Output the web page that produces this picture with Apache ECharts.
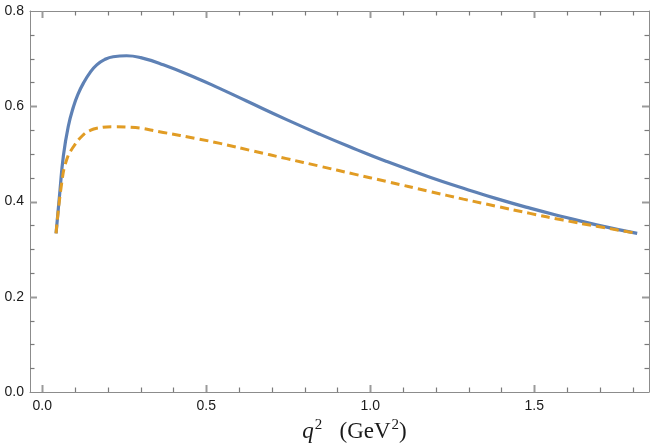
<!DOCTYPE html>
<html>
<head>
<meta charset="utf-8">
<script src="https://cdn.jsdelivr.net/npm/echarts@6/dist/echarts.min.js"></script>
<style>
html,body{margin:0;padding:0;background:#fff;}
#chart{width:654px;height:444px;}
</style>
</head>
<body>
<div id="chart"></div>
<script>
// q^2 values (GeV^2) and form-factor values
var solidX = [0.042, 0.054, 0.064, 0.079, 0.095, 0.110, 0.125, 0.145, 0.166, 0.190, 0.216, 0.257, 0.300, 0.369, 0.471, 0.542, 0.623, 0.745, 0.847, 0.948, 1.050, 1.182, 1.284, 1.385, 1.487, 1.588, 1.690, 1.814];
var solidY = [0.333, 0.424, 0.494, 0.557, 0.599, 0.627, 0.648, 0.670, 0.687, 0.698, 0.704, 0.706, 0.702, 0.687, 0.659, 0.637, 0.611, 0.572, 0.541, 0.512, 0.484, 0.451, 0.428, 0.406, 0.386, 0.368, 0.351, 0.333];
var dashedX = [0.042, 0.059, 0.074, 0.095, 0.125, 0.145, 0.166, 0.216, 0.267, 0.369, 0.471, 0.542, 0.643, 0.745, 0.847, 0.948, 1.050, 1.182, 1.284, 1.385, 1.487, 1.588, 1.690, 1.814];
var dashedY = [0.333, 0.438, 0.487, 0.515, 0.540, 0.549, 0.554, 0.557, 0.556, 0.545, 0.532, 0.522, 0.506, 0.490, 0.474, 0.458, 0.442, 0.421, 0.405, 0.390, 0.375, 0.361, 0.348, 0.333];
var xTickLabels = ['0.0', '0.5', '1.0', '1.5'];
var yTickLabels = ['0.0', '0.2', '0.4', '0.6', '0.8'];
var xMajorTicks = [0, 0.5, 1.0, 1.5];
var xMinorTicks = [0.1, 0.2, 0.3, 0.4, 0.6, 0.7, 0.8, 0.9, 1.1, 1.2, 1.3, 1.4, 1.6, 1.7, 1.8];
var yMajorTicks = [0.2, 0.4, 0.6];
var yMinorTicks = [0.05, 0.1, 0.15, 0.25, 0.3, 0.35, 0.45, 0.5, 0.55, 0.65, 0.7, 0.75];

function pairs(xs, ys) { return xs.map(function (x, i) { return [x, ys[i]]; }); }

var XMIN = -0.0375, XMAX = 1.85, YMIN = 0, YMAX = 0.8;
var frameColor = '#8c8c8c';
var majorTickColor = '#9a9a9a';
var minorTickColor = '#7a7a7a';
var labelFont = { fontFamily: 'Liberation Sans, Arial, sans-serif', fontSize: 14, color: '#1a1a1a' };
var serif = 'Liberation Serif, DejaVu Serif, serif';

function fmtX(v) {
  var k = v * 2;
  if (Math.abs(k - Math.round(k)) > 1e-6) return '';
  var idx = Math.round(k);
  return xTickLabels[idx] !== undefined ? xTickLabels[idx] : '';
}
function fmtY(v) {
  var k = v * 5;
  if (Math.abs(k - Math.round(k)) > 1e-6) return '';
  var idx = Math.round(k);
  return yTickLabels[idx] !== undefined ? yTickLabels[idx] : '';
}

function xAxisDef(pos, showLabel) {
  var a = {
    type: 'value', position: pos, min: XMIN, max: XMAX,
    minInterval: 0.5, maxInterval: 0.5, splitNumber: 4,
    axisLine: { show: true, onZero: false, lineStyle: { color: frameColor, width: 1 } },
    axisTick: { show: false },
    axisLabel: { show: showLabel, margin: 7, formatter: fmtX },
    splitLine: { show: false }
  };
  Object.assign(a.axisLabel, labelFont);
  if (showLabel) {
    a.name = '{q|q}{sup|2}{t|   (GeV}{sup|2}{t|)}';
    a.nameLocation = 'middle';
    a.nameGap = 12;
    a.nameTextStyle = {
      align: 'center', verticalAlign: 'top',
      padding: [0, 0, 0, 30],
      rich: {
        q: { fontFamily: serif, fontStyle: 'italic', fontSize: 23, color: '#1a1a1a', verticalAlign: 'bottom' },
        t: { fontFamily: serif, fontSize: 23, color: '#1a1a1a', verticalAlign: 'bottom' },
        sup: { fontFamily: serif, fontSize: 15, color: '#1a1a1a', verticalAlign: 'top', padding: [0, 0, 11, 1] }
      }
    };
  }
  return a;
}

function yAxisDef(pos, showLabel) {
  var a = {
    type: 'value', position: pos, min: YMIN, max: YMAX, interval: 0.2,
    axisLine: { show: true, onZero: false, lineStyle: { color: frameColor, width: 1 } },
    axisTick: { show: false },
    axisLabel: { show: showLabel, margin: 6, formatter: fmtY },
    splitLine: { show: false }
  };
  Object.assign(a.axisLabel, labelFont);
  return a;
}

function tickStyle(major) {
  return { stroke: major ? majorTickColor : minorTickColor, lineWidth: major ? 2 : 1.2, fill: null };
}

// x-axis frame ticks: drawn on bottom and top edges through the axis scale
function renderXTicks(params, api) {
  var v = api.value(0);
  var major = api.value(2) === 1;
  var len = major ? 7 : 4.5;
  var b = api.coord([v, YMIN]);
  var t = api.coord([v, YMAX]);
  var x = Math.round(b[0]) + 0.5;
  return {
    type: 'group',
    children: [
      { type: 'line', shape: { x1: x, y1: b[1], x2: x, y2: b[1] - len }, style: tickStyle(major) },
      { type: 'line', shape: { x1: x, y1: t[1], x2: x, y2: t[1] + len }, style: tickStyle(major) }
    ]
  };
}
// y-axis frame ticks: drawn on left and right edges
function renderYTicks(params, api) {
  var v = api.value(1);
  var major = api.value(2) === 1;
  var len = major ? 7 : 4.5;
  var l = api.coord([XMIN, v]);
  var r = api.coord([XMAX, v]);
  var y = Math.round(l[1]) + 0.5;
  return {
    type: 'group',
    children: [
      { type: 'line', shape: { x1: l[0], y1: y, x2: l[0] + len, y2: y }, style: tickStyle(major) },
      { type: 'line', shape: { x1: r[0], y1: y, x2: r[0] - len, y2: y }, style: tickStyle(major) }
    ]
  };
}

var xTickData = xMajorTicks.map(function (v) { return [v, YMIN, 1]; })
  .concat(xMinorTicks.map(function (v) { return [v, YMIN, 0]; }));
var yTickData = yMajorTicks.map(function (v) { return [XMIN, v, 1]; })
  .concat(yMinorTicks.map(function (v) { return [XMIN, v, 0]; }));

var chart = echarts.init(document.getElementById('chart'), null, { renderer: 'canvas' });
chart.setOption({
  animation: false,
  backgroundColor: '#ffffff',
  grid: { left: 30, right: 5, top: 11, bottom: 52, containLabel: false, outerBoundsMode: 'none' },
  xAxis: [ xAxisDef('bottom', true), xAxisDef('top', false) ],
  yAxis: [ yAxisDef('left', true), yAxisDef('right', false) ],
  series: [
    {
      type: 'custom', xAxisIndex: 0, yAxisIndex: 0, silent: true, z: 1, clip: false,
      encode: { x: 0, y: 1 }, data: xTickData, renderItem: renderXTicks
    },
    {
      type: 'custom', xAxisIndex: 0, yAxisIndex: 0, silent: true, z: 1, clip: false,
      encode: { x: 0, y: 1 }, data: yTickData, renderItem: renderYTicks
    },
    {
      type: 'line', xAxisIndex: 0, yAxisIndex: 0, smooth: 0.5, showSymbol: false,
      data: pairs(dashedX, dashedY),
      lineStyle: { color: '#e19c24', width: 3, type: [9, 5] }, z: 3
    },
    {
      type: 'line', xAxisIndex: 0, yAxisIndex: 0, smooth: 0.5, showSymbol: false,
      data: pairs(solidX, solidY),
      lineStyle: { color: '#5e81b5', width: 3.2 }, z: 2
    }
  ]
});
</script>
</body>
</html>
